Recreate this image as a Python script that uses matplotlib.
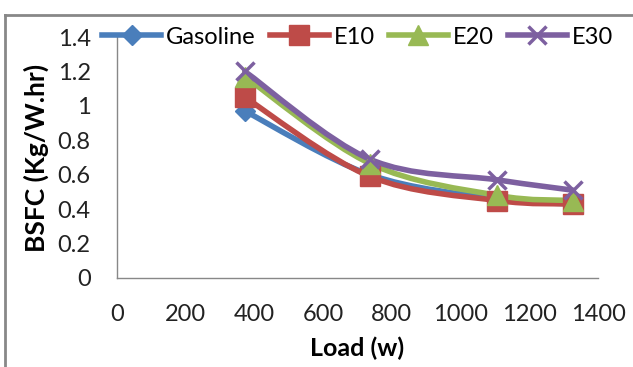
import matplotlib
matplotlib.use("Agg")
import matplotlib.pyplot as plt
from matplotlib.path import Path
from matplotlib.patches import PathPatch
from matplotlib.lines import Line2D

plt.rcParams['font.family'] = ['Lato', 'DejaVu Sans']

# data
load = [372, 736, 1107, 1327]
gasoline = [0.97, 0.60, 0.46, 0.43]
e10 = [1.05, 0.59, 0.45, 0.43]
e20 = [1.17, 0.665, 0.48, 0.45]
e30 = [1.20, 0.69, 0.57, 0.51]

series = [
    ("Gasoline", gasoline, "#4A7EBB", "D", 10),
    ("E10", e10, "#BE4B48", "s", 14),
    ("E20", e20, "#98B954", "^", 15),
    ("E30", e30, "#7D60A0", "x", 13),
]


def smooth_path(xs, ys):
    # Excel-like smoothed line: cubic bezier segments through the points
    pts = list(zip(xs, ys))
    n = len(pts)
    verts = [pts[0]]
    codes = [Path.MOVETO]
    for i in range(n - 1):
        p0 = pts[i - 1] if i > 0 else pts[i]
        p1 = pts[i]
        p2 = pts[i + 1]
        p3 = pts[i + 2] if i + 2 < n else pts[i + 1]
        c1 = (p1[0] + (p2[0] - p0[0]) / 6, p1[1] + (p2[1] - p0[1]) / 6)
        c2 = (p2[0] - (p3[0] - p1[0]) / 6, p2[1] - (p3[1] - p1[1]) / 6)
        verts += [c1, c2, p2]
        codes += [Path.CURVE4] * 3
    return Path(verts, codes)


fig = plt.figure(figsize=(6.33, 3.67), dpi=100)
ax = fig.add_axes([117 / 633, 1 - 278 / 367, (598 - 117) / 633, (278 - 37) / 367])

handles = []
for name, vals, col, mk, ms in series:
    ax.add_patch(PathPatch(smooth_path(load, vals), fill=False, edgecolor=col,
                           lw=4, capstyle='round', joinstyle='round'))
    mew = 2.5 if mk == "x" else 1
    ax.plot(load, vals, linestyle='none', marker=mk, markersize=ms,
            color=col, markeredgecolor=col, markeredgewidth=mew)
    handles.append(Line2D([], [], color=col, lw=4, marker=mk, markersize=ms,
                          markeredgecolor=col, markeredgewidth=mew, label=name))

ax.set_xlim(0, 1400)
ax.set_ylim(0, 1.4)
ax.set_xticks(range(0, 1401, 200))
ax.set_yticks([0, 0.2, 0.4, 0.6, 0.8, 1, 1.2, 1.4])
ax.set_yticklabels(["0", "0.2", "0.4", "0.6", "0.8", "1", "1.2", "1.4"])
ax.tick_params(length=0, labelsize=17, pad=19, colors='#222222')
for s in ['top', 'right']:
    ax.spines[s].set_visible(False)
for s in ['left', 'bottom']:
    ax.spines[s].set_color('#888888')
    ax.spines[s].set_linewidth(1)

ax.set_xlabel("Load (w)", fontsize=18, fontweight='bold', labelpad=8)
ax.set_ylabel("BSFC (Kg/W.hr)", fontsize=19, fontweight='bold', labelpad=6)

leg = ax.legend(handles=handles, loc='center', bbox_to_anchor=(0.5, 1.0),
                ncol=4, frameon=False, fontsize=17, handlelength=2.5,
                handletextpad=0.2, columnspacing=0.6, borderaxespad=0)

# outer chart frame
fig.add_artist(Line2D([5 / 633, 1], [1 - 15 / 367] * 2, color='#888888', lw=2))
fig.add_artist(Line2D([5 / 633] * 2, [0, 1 - 15 / 367], color='#888888', lw=2))

fig.savefig("out.png", dpi=100)
